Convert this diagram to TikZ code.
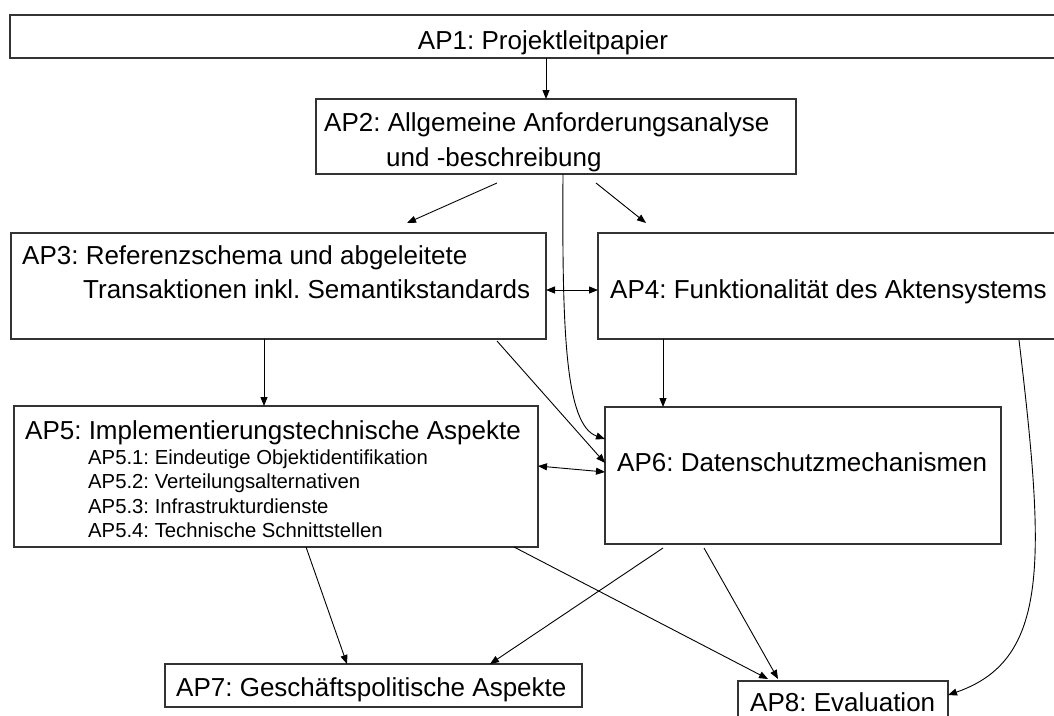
\documentclass[tikz,border=0pt]{standalone}
\usepackage{fontspec}
\setmainfont{Liberation Sans}
\usetikzlibrary{arrows.meta}
\frenchspacing
\begin{document}
\frenchspacing
\begin{tikzpicture}[x=1pt,y=-1pt,
  box/.style={draw=black!80, line width=1.2pt, inner sep=0pt, outer sep=0pt, anchor=north west},
  txt/.style={inner sep=0pt, anchor=base west, font=\fontsize{26}{30}\selectfont},
  sub/.style={inner sep=0pt, anchor=base west, font=\fontsize{20.3}{24}\selectfont},
  tip/.tip={Triangle[length=9pt,width=7pt]},
  arr/.style={-tip, line width=0.9pt},
  darr/.style={tip-tip, line width=0.9pt}]
\useasboundingbox (0,0) rectangle (1054,715);
\clip (0,0) rectangle (1054,715);
\fill[white] (0,0) rectangle (1054,715);
% boxes
\node[box, minimum width=1060pt, minimum height=43pt] (ap1) at (10,15) {};
\node[box, minimum width=480pt, minimum height=75pt] (ap2) at (316,99) {};
\node[box, minimum width=535pt, minimum height=106pt] (ap3) at (11,233) {};
\node[box, minimum width=472pt, minimum height=106pt] (ap4) at (598,233) {};
\node[box, minimum width=524pt, minimum height=141pt] (ap5) at (14,406) {};
\node[box, minimum width=396pt, minimum height=137pt] (ap6) at (605,407) {};
\node[box, minimum width=417pt, minimum height=43pt] (ap7) at (165,664) {};
\node[box, minimum width=210pt, minimum height=50pt] (ap8) at (738,681) {};
% texts
\node[txt, anchor=base] (t1) at (543,49) {AP1: Projektleitpapier};
\node[txt] (t2a) at (324,131) {AP2: Allgemeine Anforderungsanalyse};
\node[txt] (t2b) at (386,166) {und -beschreibung};
\node[txt] (t3a) at (22,264) {AP3: Referenzschema und abgeleitete};
\node[txt] (t3b) at (83,298) {Transaktionen inkl. Semantikstandards};
\node[txt] (t4) at (610,298) {AP4: Funktionalität des Aktensystems};
\node[txt] (t5) at (25,439) {AP5: Implementierungstechnische Aspekte};
\node[sub] (t51) at (88,464) {AP5.1: Eindeutige Objektidentifikation};
\node[sub] (t52) at (88,488) {AP5.2: Verteilungsalternativen};
\node[sub] (t53) at (88,513) {AP5.3: Infrastrukturdienste};
\node[sub] (t54) at (88,537) {AP5.4: Technische Schnittstellen};
\node[txt] (t6) at (617,471) {AP6: Datenschutzmechanismen};
\node[txt] (t7) at (176,696) {AP7: Geschäftspolitische Aspekte};
\node[txt] (t8) at (750,711) {AP8: Evaluation};
% connectors
\draw[arr] ([shift={(536,43)}]ap1.north west) -- ([shift={(230,0)}]ap2.north west);
\draw[arr] ([shift={(181,84)}]ap2.north west) -- ([shift={(396,-10)}]ap3.north west);
\draw[arr] ([shift={(280,84)}]ap2.north west) -- ([shift={(48,-10)}]ap4.north west);
\draw[arr] ([shift={(247,75)}]ap2.north west) .. controls (562,330) and (565,425) .. ([shift={(0,32)}]ap6.north west);
\draw[darr] ([shift={(535,57)}]ap3.north west) -- ([shift={(0,57)}]ap4.north west);
\draw[arr] ([shift={(253,106)}]ap3.north west) -- ([shift={(250,0)}]ap5.north west);
\draw[arr] ([shift={(486,108)}]ap3.north west) -- ([shift={(0,56)}]ap6.north west);
\draw[arr] ([shift={(65,106)}]ap4.north west) -- ([shift={(58,0)}]ap6.north west);
\draw[arr] ([shift={(421,107)}]ap4.north west) .. controls (1045,560) and (1050,660) .. ([shift={(210,14)}]ap8.north west);
\draw[darr] ([shift={(524,60)}]ap5.north west) -- ([shift={(0,65)}]ap6.north west);
\draw[arr] ([shift={(292,141)}]ap5.north west) -- ([shift={(182,0)}]ap7.north west);
\draw[arr] ([shift={(500,141)}]ap5.north west) -- ([shift={(30,-2)}]ap8.north west);
\draw[arr] ([shift={(58,141)}]ap6.north west) -- ([shift={(325,0)}]ap7.north west);
\draw[arr] ([shift={(99,141)}]ap6.north west) -- ([shift={(40,-2)}]ap8.north west);
\end{tikzpicture}
\end{document}
